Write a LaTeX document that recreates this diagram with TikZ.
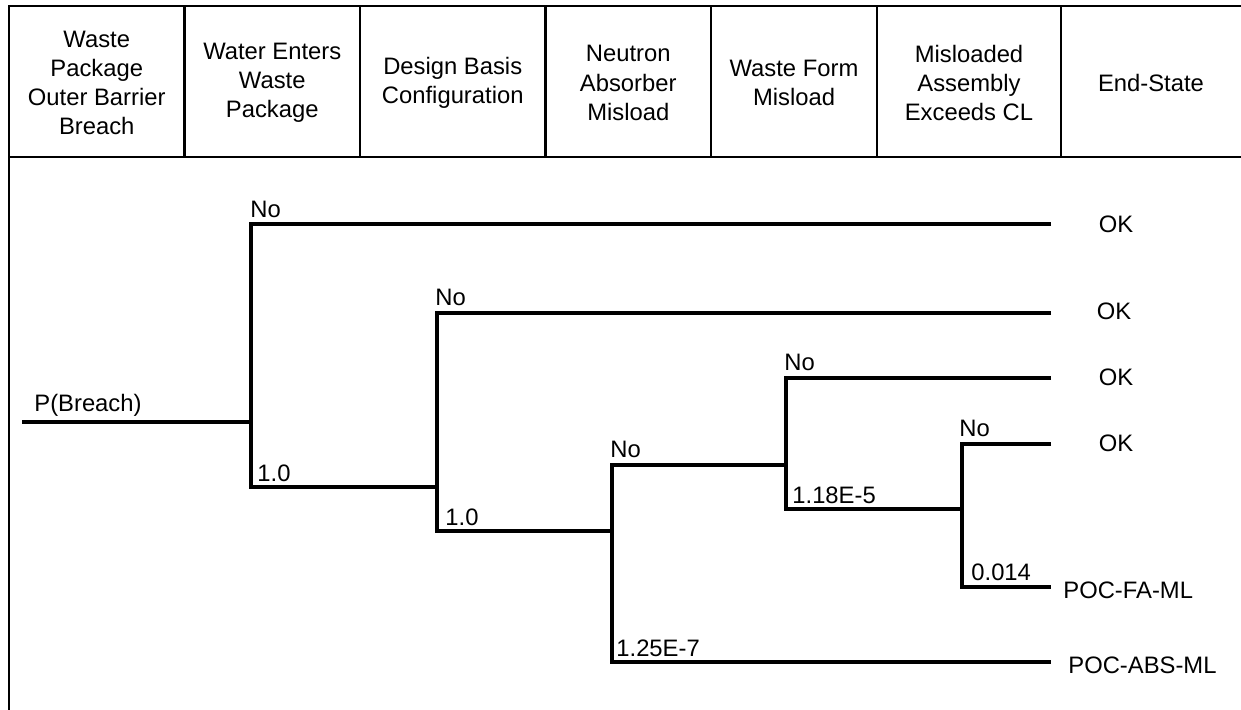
\documentclass[tikz,border=0pt]{standalone}
\usepackage{fontspec}
\setmainfont{Liberation Sans}
\begin{document}
\begin{tikzpicture}[x=0.5pt,y=-0.5pt,
  frame/.style={line width=1.3pt,black},
  divider/.style={line width=1.1pt,black},
  br/.style={line width=1.7pt,black,line join=miter},
  hdr/.style={align=center,inner sep=0pt,font=\fontsize{11.9}{14.6}\selectfont},
  lbl/.style={anchor=base west,inner sep=0pt,font=\fontsize{11.9}{14}\selectfont},
  endst/.style={inner sep=0pt,font=\fontsize{11.9}{14}\selectfont}]
\useasboundingbox (0,0) rectangle (1241,710);
% frame
\draw[frame] (1241,6) -- (9,6) -- (9,710);
\draw[frame] (9,157) -- (1241,157);
\foreach \xx in {184.5,360,545.5,711,877,1061}
  \draw[divider] (\xx,6) -- (\xx,157);
% header
\node[hdr] (h1) at (96.75,83) {Waste\\Package\\Outer Barrier\\Breach};
\node[hdr] (h2) at (272.25,83) {Water Enters\\Waste\\Package};
\node[hdr] (h3) at (452.75,83) {Design Basis\\Configuration};
\node[hdr] (h4) at (628.25,83) {Neutron\\Absorber\\Misload};
\node[hdr] (h5) at (794,83) {Waste Form\\Misload};
\node[hdr] (h6) at (969,83) {Misloaded\\Assembly\\Exceeds CL};
\node[hdr] (h7) at (1151,83) {End-State};
% tree coordinates
\coordinate (r0) at (22,422);
\coordinate (j1) at (251,422);
\coordinate (a1) at (251,224); \coordinate (e1) at (1051,224);
\coordinate (b1) at (251,487); \coordinate (j2) at (437,487);
\coordinate (a2) at (437,313); \coordinate (e2) at (1051,313);
\coordinate (b2) at (437,531); \coordinate (j3) at (612,531);
\coordinate (a3) at (612,465); \coordinate (j4) at (786,465);
\coordinate (b3) at (612,662); \coordinate (e6) at (1051,662);
\coordinate (a4) at (786,378); \coordinate (e3) at (1051,378);
\coordinate (b4) at (786,509); \coordinate (j5) at (962,509);
\coordinate (a5) at (962,444); \coordinate (e4) at (1051,444);
\coordinate (b5) at (962,587); \coordinate (e5) at (1051,587);
% branches
\draw[br] (r0) -- (j1);
\draw[br] (e1) -- (a1) -- (b1) -- (j2);
\draw[br] (e2) -- (a2) -- (b2) -- (j3);
\draw[br] (j4) -- (a3) -- (b3) -- (e6);
\draw[br] (e3) -- (a4) -- (b4) -- (j5);
\draw[br] (e4) -- (a5) -- (b5) -- (e5);
% labels
\node[lbl] (lp) at (34,412) {P(Breach)};
\node[lbl] (l1) at (250,218) {No};
\node[lbl] (l2) at (257,481) {1.0};
\node[lbl] (l3) at (435,306) {No};
\node[lbl] (l4) at (445,525) {1.0};
\node[lbl] (l5) at (610,458) {No};
\node[lbl] (l6) at (616,656) {1.25E-7};
\node[lbl] (l7) at (784,371) {No};
\node[lbl] (l8) at (792,503) {1.18E-5};
\node[lbl] (l9) at (959,437) {No};
\node[lbl] (l10) at (971,580) {0.014};
% end states
\node[endst] (s1) at (1116,224) {OK};
\node[endst] (s2) at (1114,311) {OK};
\node[endst] (s3) at (1116,377) {OK};
\node[endst] (s4) at (1116,443) {OK};
\node[endst,anchor=west] (s5) at (1063,590) {POC-FA-ML};
\node[endst,anchor=west] (s6) at (1068,665) {POC-ABS-ML};
\end{tikzpicture}
\end{document}
